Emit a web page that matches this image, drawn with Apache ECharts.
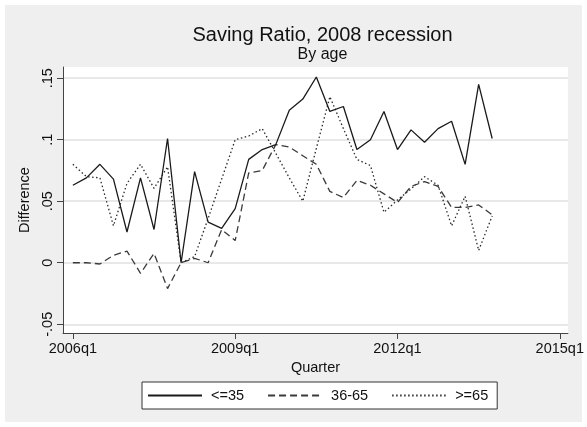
<!DOCTYPE html>
<html>
<head>
<meta charset="utf-8">
<script src="https://cdn.jsdelivr.net/npm/echarts@6/dist/echarts.min.js"></script>
<style>
  html, body { margin: 0; padding: 0; background: #fff; }
  #chart {
    width: 587px; height: 427px;
    background: #efefef;
    box-shadow: inset 0 0 0 5px #fff;
  }
</style>
</head>
<body>
<div id="chart"></div>
<script>
// Quarters 2006q1 .. 2013q4
const quarters = [
  '2006q1','2006q2','2006q3','2006q4',
  '2007q1','2007q2','2007q3','2007q4',
  '2008q1','2008q2','2008q3','2008q4',
  '2009q1','2009q2','2009q3','2009q4',
  '2010q1','2010q2','2010q3','2010q4',
  '2011q1','2011q2','2011q3','2011q4',
  '2012q1','2012q2','2012q3','2012q4',
  '2013q1','2013q2','2013q3','2013q4'
];

// Difference in saving ratio by age group
const ageUpTo35 = [
  0.063, 0.069, 0.080, 0.068, 0.025, 0.069, 0.027, 0.101,
  0.000, 0.074, 0.033, 0.028, 0.044, 0.084, 0.092, 0.096,
  0.124, 0.133, 0.151, 0.123, 0.127, 0.092, 0.100, 0.123,
  0.092, 0.108, 0.098, 0.109, 0.115, 0.080, 0.145, 0.101
];
const age36to65 = [
  0.000, 0.000, -0.001, 0.006, 0.0095, -0.0086, 0.0076, -0.021,
  0.000, 0.0036, 0.000, 0.027, 0.018, 0.073, 0.075, 0.096,
  0.094, 0.087, 0.080, 0.058, 0.053, 0.067, 0.063, 0.056,
  0.049, 0.062, 0.066, 0.062, 0.045, 0.045, 0.047, 0.039
];
const age65plus = [
  0.080, 0.070, 0.069, 0.030, 0.0645, 0.080, 0.0605, 0.078,
  0.000, 0.005, 0.036, 0.068, 0.100, 0.103, 0.109, 0.089,
  0.069, 0.050, 0.093, 0.135, 0.109, 0.084, 0.079, 0.041,
  0.051, 0.060, 0.070, 0.063, 0.030, 0.054, 0.010, 0.038
];

const seriesNames = ['<=35', '36-65', '>=65'];

// Axis ticks
const xTickLabels = ['2006q1', '2009q1', '2012q1', '2015q1'];
const yTickValues = [-0.05, 0, 0.05, 0.1, 0.15];
const yTickLabels = ['-.05', '0', '.05', '.1', '.15'];

// Quarter string -> index counted from 2006q1
function qIndex(s) {
  const y = parseInt(s.slice(0, 4), 10);
  const q = parseInt(s.slice(5), 10);
  return (y - 2006) * 4 + (q - 1);
}
const xTickValues = xTickLabels.map(qIndex);

function pairs(vals) {
  return quarters.map((q, i) => [qIndex(q), vals[i]]);
}

const FONT = 'Liberation Sans, Arial, Helvetica, sans-serif';
const TXT = '#111';

const chart = echarts.init(document.getElementById('chart'), null, { renderer: 'canvas' });

chart.setOption({
  animation: false,
  textStyle: { fontFamily: FONT, color: TXT },
  title: {
    text: 'Saving Ratio, 2008 recession',
    subtext: 'By age',
    left: 317.5,
    textAlign: 'center',
    top: 20,
    itemGap: 2,
    textStyle: { fontFamily: FONT, fontSize: 20, fontWeight: 'normal', color: TXT },
    subtextStyle: { fontFamily: FONT, fontSize: 16, color: TXT }
  },
  legend: {
    data: seriesNames,
    left: 142,
    top: 382,
    orient: 'horizontal',
    backgroundColor: '#fff',
    borderColor: '#333',
    borderWidth: 1,
    borderRadius: 0,
    padding: [6, 9, 6, 5],
    itemWidth: 54,
    itemHeight: 14,
    itemGap: 23,
    itemStyle: { opacity: 0 },
    textStyle: { fontFamily: FONT, fontSize: 14.5, color: TXT, padding: [0, 0, 0, 4] }
  },
  grid: {
    left: 63, right: 15, top: 67, bottom: 94,
    show: true,
    backgroundColor: '#fff',
    borderWidth: 0
  },
  xAxis: {
    type: 'value',
    min: -0.73,
    max: 36.6,
    name: 'Quarter',
    nameLocation: 'middle',
    nameGap: 23,
    nameTextStyle: { fontFamily: FONT, fontSize: 14.5, color: TXT },
    axisLine: { onZero: false, lineStyle: { color: '#444', width: 1 } },
    axisTick: { show: true, length: 6, customValues: xTickValues, lineStyle: { color: '#444' } },
    axisLabel: {
      customValues: xTickValues,
      margin: 8,
      fontSize: 14.5,
      color: TXT,
      fontFamily: FONT,
      formatter: v => xTickLabels[xTickValues.indexOf(Math.round(v))] || ''
    },
    splitLine: { show: false }
  },
  yAxis: {
    type: 'value',
    min: -0.0571,
    max: 0.1591,
    name: 'Difference',
    nameLocation: 'middle',
    nameRotate: 90,
    nameGap: 27,
    nameTextStyle: { fontFamily: FONT, fontSize: 14.5, color: TXT },
    axisLine: { show: true, onZero: false, lineStyle: { color: '#444', width: 1 } },
    axisTick: { show: true, length: 6, customValues: yTickValues, lineStyle: { color: '#444' } },
    axisLabel: {
      customValues: yTickValues,
      rotate: 90,
      margin: 8,
      fontSize: 14.5,
      color: TXT,
      fontFamily: FONT,
      formatter: v => {
        const k = yTickValues.findIndex(t => Math.abs(t - v) < 1e-6);
        return k >= 0 ? yTickLabels[k] : '';
      }
    },
    splitLine: { show: true, lineStyle: { color: '#e8e8e8', width: 2 } }
  },
  series: [
    {
      name: seriesNames[0], type: 'line', data: pairs(ageUpTo35),
      symbol: 'none', z: 4,
      lineStyle: { color: '#1a1a1a', width: 1.3, type: 'solid' },
      itemStyle: { color: '#1a1a1a' }
    },
    {
      name: seriesNames[1], type: 'line', data: pairs(age36to65),
      symbol: 'none', z: 3,
      lineStyle: { color: '#3a3a3a', width: 1.3, type: [7, 4] },
      itemStyle: { color: '#3a3a3a' }
    },
    {
      name: seriesNames[2], type: 'line', data: pairs(age65plus),
      symbol: 'none', z: 2,
      lineStyle: { color: '#2a2a2a', width: 1.3, type: [1.5, 2.5] },
      itemStyle: { color: '#2a2a2a' }
    }
  ]
});
</script>
</body>
</html>
